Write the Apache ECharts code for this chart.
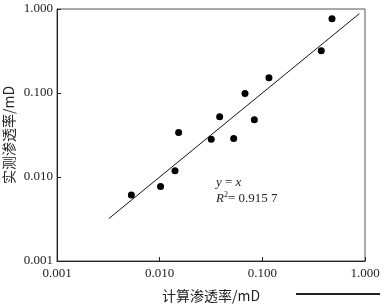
<!DOCTYPE html>
<html>
<head>
<meta charset="utf-8">
<script src="https://cdn.jsdelivr.net/npm/echarts@6/dist/echarts.min.js"></script>
<style>
  html, body { margin: 0; padding: 0; background: #fff; }
  #main { width: 385px; height: 306px; }
</style>
</head>
<body>
<div id="main"></div>
<script type="text/javascript">
    // 计算渗透率 vs 实测渗透率 (mD)
    var calcPerm = [0.0053, 0.0102, 0.0141, 0.0153, 0.0318, 0.0384, 0.0526, 0.0678, 0.0836, 0.116, 0.375, 0.477];
    var measPerm = [0.0061, 0.0077, 0.0119, 0.0338, 0.0282, 0.052, 0.0287, 0.0986, 0.048, 0.152, 0.318, 0.766];
    var fitLine = [[0.0032, 0.0032], [0.88, 0.88]];
    var axisMin = 0.001, axisMax = 1;

    var points = [];
    for (var i = 0; i < calcPerm.length; i++) {
        points.push([calcPerm[i], measPerm[i]]);
    }

    var serif = '"Liberation Serif", "DejaVu Serif", serif';
    var cjk = '"Noto Sans CJK SC", sans-serif';

    var myChart = echarts.init(document.getElementById('main'));
    myChart.setOption({
        animation: false,
        grid: {
            left: 57, right: 20, top: 9, bottom: 45,
            containLabel: false,
            outerBoundsMode: 'none',
            show: true,
            borderColor: '#555',
            borderWidth: 1
        },
        xAxis: {
            type: 'log',
            logBase: 10,
            min: axisMin,
            max: axisMax,
            name: '计算渗透率/mD',
            nameLocation: 'middle',
            nameGap: 28,
            nameTextStyle: { fontFamily: cjk, fontSize: 14, color: '#222' },
            axisLine: { lineStyle: { color: '#222' } },
            axisTick: { inside: true, length: 4, lineStyle: { color: '#222' } },
            minorTick: { show: false },
            splitLine: { show: false },
            axisLabel: {
                fontFamily: serif, fontSize: 13, color: '#222', margin: 6,
                formatter: function (v) { return v.toFixed(3); }
            }
        },
        yAxis: {
            type: 'log',
            logBase: 10,
            min: axisMin,
            max: axisMax,
            name: '实测渗透率/mD',
            nameLocation: 'middle',
            nameMoveOverlap: false,
            nameGap: 41,
            nameTextStyle: { fontFamily: cjk, fontSize: 14, color: '#222' },
            axisLine: { lineStyle: { color: '#222' } },
            axisTick: { inside: true, length: 4, lineStyle: { color: '#222' } },
            minorTick: { show: false },
            splitLine: { show: false },
            axisLabel: {
                fontFamily: serif, fontSize: 13, color: '#222', margin: 4,
                formatter: function (v) { return v.toFixed(3); }
            }
        },
        series: [
            {
                type: 'line',
                data: fitLine,
                symbol: 'none',
                lineStyle: { color: '#111', width: 1 },
                silent: true
            },
            {
                type: 'scatter',
                data: points,
                symbol: 'circle',
                symbolSize: 7,
                itemStyle: { color: '#000', opacity: 1 }
            }
        ],
        graphic: [
            {
                type: 'text',
                left: 216, top: 175,
                style: {
                    text: '{i|y} = {i|x}\n{i|R}{s|2}= 0.915 7',
                    fontFamily: serif, fontSize: 13, fill: '#222', lineHeight: 16,
                    rich: {
                        i: { fontFamily: serif, fontStyle: 'italic', fontSize: 13, fill: '#222' },
                        s: { fontFamily: serif, fontSize: 8, fill: '#222', verticalAlign: 'top', padding: [0, 0, 6, 0] }
                    }
                }
            },
            {
                type: 'line',
                shape: { x1: 296, y1: 294, x2: 380, y2: 294 },
                style: { stroke: '#222', lineWidth: 2 }
            }
        ]
    });
</script>
</body>
</html>
